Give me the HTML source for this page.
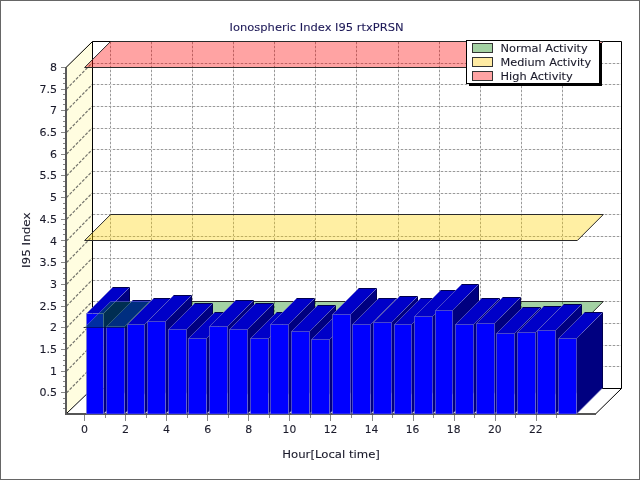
<!DOCTYPE html>
<html><head><meta charset="utf-8"><style>
html,body{margin:0;padding:0;background:#fff;}
svg{display:block;}
</style></head><body>
<svg style="will-change:transform" width="640" height="480" viewBox="0 0 640 480">
<rect x="0" y="0" width="640" height="480" fill="#ffffff"/>
<polygon points="92,41.35 621.5,41.35 621.5,388 92,388" fill="#ffffff" stroke="none" stroke-width="1" />
<polygon points="66,67.35 92,41.35 92,388 66,414" fill="#fffde0" stroke="none" stroke-width="1" />
<polygon points="66,414 92,388 621.5,388 595.5,414" fill="#ffffff" stroke="none" stroke-width="1" />
<line x1="92" y1="366.5" x2="621.5" y2="366.5" stroke="#e4e4e4" stroke-width="1" />
<line x1="92" y1="366.5" x2="621.5" y2="366.5" stroke="#9a9a9a" stroke-width="1" stroke-dasharray="2,2" stroke-dashoffset="-1"/>
<line x1="66.5" y1="392.85" x2="92" y2="366.85" stroke="#74746c" stroke-width="1.2" stroke-dasharray="3,1.5"/>
<line x1="92" y1="345.5" x2="621.5" y2="345.5" stroke="#e4e4e4" stroke-width="1" />
<line x1="92" y1="345.5" x2="621.5" y2="345.5" stroke="#9a9a9a" stroke-width="1" stroke-dasharray="2,2" stroke-dashoffset="-1"/>
<line x1="66.5" y1="371.15" x2="92" y2="345.15" stroke="#74746c" stroke-width="1.2" stroke-dasharray="3,1.5"/>
<line x1="92" y1="323.5" x2="621.5" y2="323.5" stroke="#e4e4e4" stroke-width="1" />
<line x1="92" y1="323.5" x2="621.5" y2="323.5" stroke="#9a9a9a" stroke-width="1" stroke-dasharray="2,2" stroke-dashoffset="-1"/>
<line x1="66.5" y1="349.45" x2="92" y2="323.45" stroke="#74746c" stroke-width="1.2" stroke-dasharray="3,1.5"/>
<line x1="92" y1="301.5" x2="621.5" y2="301.5" stroke="#e4e4e4" stroke-width="1" />
<line x1="92" y1="301.5" x2="621.5" y2="301.5" stroke="#9a9a9a" stroke-width="1" stroke-dasharray="2,2" stroke-dashoffset="-1"/>
<line x1="66.5" y1="327.75" x2="92" y2="301.75" stroke="#74746c" stroke-width="1.2" stroke-dasharray="3,1.5"/>
<line x1="92" y1="280.5" x2="621.5" y2="280.5" stroke="#e4e4e4" stroke-width="1" />
<line x1="92" y1="280.5" x2="621.5" y2="280.5" stroke="#9a9a9a" stroke-width="1" stroke-dasharray="2,2" stroke-dashoffset="-1"/>
<line x1="66.5" y1="306.05" x2="92" y2="280.05" stroke="#74746c" stroke-width="1.2" stroke-dasharray="3,1.5"/>
<line x1="92" y1="258.5" x2="621.5" y2="258.5" stroke="#e4e4e4" stroke-width="1" />
<line x1="92" y1="258.5" x2="621.5" y2="258.5" stroke="#9a9a9a" stroke-width="1" stroke-dasharray="2,2" stroke-dashoffset="-1"/>
<line x1="66.5" y1="284.35" x2="92" y2="258.35" stroke="#74746c" stroke-width="1.2" stroke-dasharray="3,1.5"/>
<line x1="92" y1="236.5" x2="621.5" y2="236.5" stroke="#e4e4e4" stroke-width="1" />
<line x1="92" y1="236.5" x2="621.5" y2="236.5" stroke="#9a9a9a" stroke-width="1" stroke-dasharray="2,2" stroke-dashoffset="-1"/>
<line x1="66.5" y1="262.65" x2="92" y2="236.65" stroke="#74746c" stroke-width="1.2" stroke-dasharray="3,1.5"/>
<line x1="92" y1="214.5" x2="621.5" y2="214.5" stroke="#e4e4e4" stroke-width="1" />
<line x1="92" y1="214.5" x2="621.5" y2="214.5" stroke="#9a9a9a" stroke-width="1" stroke-dasharray="2,2" stroke-dashoffset="-1"/>
<line x1="66.5" y1="240.95" x2="92" y2="214.95" stroke="#74746c" stroke-width="1.2" stroke-dasharray="3,1.5"/>
<line x1="92" y1="193.5" x2="621.5" y2="193.5" stroke="#e4e4e4" stroke-width="1" />
<line x1="92" y1="193.5" x2="621.5" y2="193.5" stroke="#9a9a9a" stroke-width="1" stroke-dasharray="2,2" stroke-dashoffset="-1"/>
<line x1="66.5" y1="219.25" x2="92" y2="193.25" stroke="#74746c" stroke-width="1.2" stroke-dasharray="3,1.5"/>
<line x1="92" y1="171.5" x2="621.5" y2="171.5" stroke="#e4e4e4" stroke-width="1" />
<line x1="92" y1="171.5" x2="621.5" y2="171.5" stroke="#9a9a9a" stroke-width="1" stroke-dasharray="2,2" stroke-dashoffset="-1"/>
<line x1="66.5" y1="197.55" x2="92" y2="171.55" stroke="#74746c" stroke-width="1.2" stroke-dasharray="3,1.5"/>
<line x1="92" y1="149.5" x2="621.5" y2="149.5" stroke="#e4e4e4" stroke-width="1" />
<line x1="92" y1="149.5" x2="621.5" y2="149.5" stroke="#9a9a9a" stroke-width="1" stroke-dasharray="2,2" stroke-dashoffset="-1"/>
<line x1="66.5" y1="175.85" x2="92" y2="149.85" stroke="#74746c" stroke-width="1.2" stroke-dasharray="3,1.5"/>
<line x1="92" y1="128.5" x2="621.5" y2="128.5" stroke="#e4e4e4" stroke-width="1" />
<line x1="92" y1="128.5" x2="621.5" y2="128.5" stroke="#9a9a9a" stroke-width="1" stroke-dasharray="2,2" stroke-dashoffset="-1"/>
<line x1="66.5" y1="154.15" x2="92" y2="128.15" stroke="#74746c" stroke-width="1.2" stroke-dasharray="3,1.5"/>
<line x1="92" y1="106.5" x2="621.5" y2="106.5" stroke="#e4e4e4" stroke-width="1" />
<line x1="92" y1="106.5" x2="621.5" y2="106.5" stroke="#9a9a9a" stroke-width="1" stroke-dasharray="2,2" stroke-dashoffset="-1"/>
<line x1="66.5" y1="132.45" x2="92" y2="106.45" stroke="#74746c" stroke-width="1.2" stroke-dasharray="3,1.5"/>
<line x1="92" y1="84.5" x2="621.5" y2="84.5" stroke="#e4e4e4" stroke-width="1" />
<line x1="92" y1="84.5" x2="621.5" y2="84.5" stroke="#9a9a9a" stroke-width="1" stroke-dasharray="2,2" stroke-dashoffset="-1"/>
<line x1="66.5" y1="110.75" x2="92" y2="84.75" stroke="#74746c" stroke-width="1.2" stroke-dasharray="3,1.5"/>
<line x1="92" y1="63.5" x2="621.5" y2="63.5" stroke="#e4e4e4" stroke-width="1" />
<line x1="92" y1="63.5" x2="621.5" y2="63.5" stroke="#9a9a9a" stroke-width="1" stroke-dasharray="2,2" stroke-dashoffset="-1"/>
<line x1="66.5" y1="89.05" x2="92" y2="63.05" stroke="#74746c" stroke-width="1.2" stroke-dasharray="3,1.5"/>
<line x1="110.5" y1="42" x2="110.5" y2="388" stroke="#e4e4e4" stroke-width="1" />
<line x1="110.5" y1="42" x2="110.5" y2="388" stroke="#9a9a9a" stroke-width="1" stroke-dasharray="2,2"/>
<line x1="151.5" y1="42" x2="151.5" y2="388" stroke="#e4e4e4" stroke-width="1" />
<line x1="151.5" y1="42" x2="151.5" y2="388" stroke="#9a9a9a" stroke-width="1" stroke-dasharray="2,2"/>
<line x1="192.5" y1="42" x2="192.5" y2="388" stroke="#e4e4e4" stroke-width="1" />
<line x1="192.5" y1="42" x2="192.5" y2="388" stroke="#9a9a9a" stroke-width="1" stroke-dasharray="2,2"/>
<line x1="233.5" y1="42" x2="233.5" y2="388" stroke="#e4e4e4" stroke-width="1" />
<line x1="233.5" y1="42" x2="233.5" y2="388" stroke="#9a9a9a" stroke-width="1" stroke-dasharray="2,2"/>
<line x1="274.5" y1="42" x2="274.5" y2="388" stroke="#e4e4e4" stroke-width="1" />
<line x1="274.5" y1="42" x2="274.5" y2="388" stroke="#9a9a9a" stroke-width="1" stroke-dasharray="2,2"/>
<line x1="315.5" y1="42" x2="315.5" y2="388" stroke="#e4e4e4" stroke-width="1" />
<line x1="315.5" y1="42" x2="315.5" y2="388" stroke="#9a9a9a" stroke-width="1" stroke-dasharray="2,2"/>
<line x1="356.5" y1="42" x2="356.5" y2="388" stroke="#e4e4e4" stroke-width="1" />
<line x1="356.5" y1="42" x2="356.5" y2="388" stroke="#9a9a9a" stroke-width="1" stroke-dasharray="2,2"/>
<line x1="398.5" y1="42" x2="398.5" y2="388" stroke="#e4e4e4" stroke-width="1" />
<line x1="398.5" y1="42" x2="398.5" y2="388" stroke="#9a9a9a" stroke-width="1" stroke-dasharray="2,2"/>
<line x1="439.5" y1="42" x2="439.5" y2="388" stroke="#e4e4e4" stroke-width="1" />
<line x1="439.5" y1="42" x2="439.5" y2="388" stroke="#9a9a9a" stroke-width="1" stroke-dasharray="2,2"/>
<line x1="480.5" y1="42" x2="480.5" y2="388" stroke="#e4e4e4" stroke-width="1" />
<line x1="480.5" y1="42" x2="480.5" y2="388" stroke="#9a9a9a" stroke-width="1" stroke-dasharray="2,2"/>
<line x1="521.5" y1="42" x2="521.5" y2="388" stroke="#e4e4e4" stroke-width="1" />
<line x1="521.5" y1="42" x2="521.5" y2="388" stroke="#9a9a9a" stroke-width="1" stroke-dasharray="2,2"/>
<line x1="562.5" y1="42" x2="562.5" y2="388" stroke="#e4e4e4" stroke-width="1" />
<line x1="562.5" y1="42" x2="562.5" y2="388" stroke="#9a9a9a" stroke-width="1" stroke-dasharray="2,2"/>
<polyline points="66,67.5 92.5,41.5 621.5,41.5 621.5,388.5" fill="none" stroke="#000" stroke-width="1"/>
<line x1="92.5" y1="41.5" x2="92.5" y2="388.5" stroke="#000" stroke-width="1" />
<line x1="92.5" y1="388.5" x2="621.5" y2="388.5" stroke="#000" stroke-width="1" />
<line x1="66" y1="414" x2="92.5" y2="388.5" stroke="#000" stroke-width="1" />
<line x1="595.5" y1="414" x2="621.5" y2="388.5" stroke="#000" stroke-width="1" />
<polygon points="84.6,67.5 110.6,41.5 603.32,41.5 577.32,67.5" fill="#ff0000" stroke="#2a2a2a" stroke-width="1" fill-opacity="0.36"/>
<polygon points="84.6,240.5 110.6,214.5 603.32,214.5 577.32,240.5" fill="#ffd200" stroke="#2a2a2a" stroke-width="1" fill-opacity="0.36"/>
<rect x="65" y="413" width="531" height="2" fill="#555"/>
<polygon points="103.5,313.5 129.5,287.5 129.5,388 103.5,414" fill="#000080" stroke="none" stroke-width="1" />
<polygon points="86.5,313.5 112.5,287.5 129.5,287.5 103.5,313.5" fill="#0000c8" stroke="none" stroke-width="1" />
<polygon points="86.5,313.5 103.5,313.5 103.5,414 86.5,414" fill="#0000ff" stroke="none" stroke-width="1" />
<polyline points="112.5,287.5 129.5,287.5 129.5,388" fill="none" stroke="#000050" stroke-width="1"/>
<polyline points="112.5,287.5 86.5,313.5 86.5,414 103.5,414 103.5,313.5" fill="none" stroke="rgba(120,120,200,0.6)" stroke-width="1"/>
<polyline points="86.5,313.5 103.5,313.5 129.5,287.5" fill="none" stroke="rgba(120,120,200,0.6)" stroke-width="1"/>
<line x1="103.5" y1="414" x2="129.5" y2="388" stroke="rgba(120,120,200,0.6)" stroke-width="1" />
<polygon points="124.5,326.5 150.5,300.5 150.5,388 124.5,414" fill="#000080" stroke="none" stroke-width="1" />
<polygon points="106.5,326.5 132.5,300.5 150.5,300.5 124.5,326.5" fill="#0000c8" stroke="none" stroke-width="1" />
<polygon points="106.5,326.5 124.5,326.5 124.5,414 106.5,414" fill="#0000ff" stroke="none" stroke-width="1" />
<polyline points="132.5,300.5 150.5,300.5 150.5,388" fill="none" stroke="#000050" stroke-width="1"/>
<polyline points="132.5,300.5 106.5,326.5 106.5,414 124.5,414 124.5,326.5" fill="none" stroke="rgba(120,120,200,0.6)" stroke-width="1"/>
<polyline points="106.5,326.5 124.5,326.5 150.5,300.5" fill="none" stroke="rgba(120,120,200,0.6)" stroke-width="1"/>
<line x1="124.5" y1="414" x2="150.5" y2="388" stroke="rgba(120,120,200,0.6)" stroke-width="1" />
<polygon points="84.6,327.5 110.6,301.5 603.32,301.5 577.32,327.5" fill="#008000" stroke="none" stroke-width="1" fill-opacity="0.36"/>
<polyline points="150.5,301.5 603.32,301.5 577.32,327.5 127.5,327.5" fill="none" stroke="#2a2a2a" stroke-width="1"/>
<polyline points="85.8,326.3 110.6,301.5 150.5,301.5" fill="none" stroke="rgba(110,110,220,0.55)" stroke-width="1"/>
<line x1="84.6" y1="327.5" x2="127.5" y2="327.5" stroke="rgba(0,0,60,0.55)" stroke-width="1" />
<line x1="83.6" y1="327.5" x2="85.5" y2="327.5" stroke="#2a2a2a" stroke-width="1" />
<polygon points="144.5,324.5 170.5,298.5 170.5,388 144.5,414" fill="#000080" stroke="none" stroke-width="1" />
<polygon points="127.5,324.5 153.5,298.5 170.5,298.5 144.5,324.5" fill="#0000c8" stroke="none" stroke-width="1" />
<polygon points="127.5,324.5 144.5,324.5 144.5,414 127.5,414" fill="#0000ff" stroke="none" stroke-width="1" />
<polyline points="153.5,298.5 170.5,298.5 170.5,388" fill="none" stroke="#000050" stroke-width="1"/>
<polyline points="153.5,298.5 127.5,324.5 127.5,414 144.5,414 144.5,324.5" fill="none" stroke="rgba(120,120,200,0.6)" stroke-width="1"/>
<polyline points="127.5,324.5 144.5,324.5 170.5,298.5" fill="none" stroke="rgba(120,120,200,0.6)" stroke-width="1"/>
<line x1="144.5" y1="414" x2="170.5" y2="388" stroke="rgba(120,120,200,0.6)" stroke-width="1" />
<polygon points="165.5,321.5 191.5,295.5 191.5,388 165.5,414" fill="#000080" stroke="none" stroke-width="1" />
<polygon points="147.5,321.5 173.5,295.5 191.5,295.5 165.5,321.5" fill="#0000c8" stroke="none" stroke-width="1" />
<polygon points="147.5,321.5 165.5,321.5 165.5,414 147.5,414" fill="#0000ff" stroke="none" stroke-width="1" />
<polyline points="173.5,295.5 191.5,295.5 191.5,388" fill="none" stroke="#000050" stroke-width="1"/>
<polyline points="173.5,295.5 147.5,321.5 147.5,414 165.5,414 165.5,321.5" fill="none" stroke="rgba(120,120,200,0.6)" stroke-width="1"/>
<polyline points="147.5,321.5 165.5,321.5 191.5,295.5" fill="none" stroke="rgba(120,120,200,0.6)" stroke-width="1"/>
<line x1="165.5" y1="414" x2="191.5" y2="388" stroke="rgba(120,120,200,0.6)" stroke-width="1" />
<polygon points="186.5,329.5 212.5,303.5 212.5,388 186.5,414" fill="#000080" stroke="none" stroke-width="1" />
<polygon points="168.5,329.5 194.5,303.5 212.5,303.5 186.5,329.5" fill="#0000c8" stroke="none" stroke-width="1" />
<polygon points="168.5,329.5 186.5,329.5 186.5,414 168.5,414" fill="#0000ff" stroke="none" stroke-width="1" />
<polyline points="194.5,303.5 212.5,303.5 212.5,388" fill="none" stroke="#000050" stroke-width="1"/>
<polyline points="194.5,303.5 168.5,329.5 168.5,414 186.5,414 186.5,329.5" fill="none" stroke="rgba(120,120,200,0.6)" stroke-width="1"/>
<polyline points="168.5,329.5 186.5,329.5 212.5,303.5" fill="none" stroke="rgba(120,120,200,0.6)" stroke-width="1"/>
<line x1="186.5" y1="414" x2="212.5" y2="388" stroke="rgba(120,120,200,0.6)" stroke-width="1" />
<polygon points="206.5,338.5 232.5,312.5 232.5,388 206.5,414" fill="#000080" stroke="none" stroke-width="1" />
<polygon points="188.5,338.5 214.5,312.5 232.5,312.5 206.5,338.5" fill="#0000c8" stroke="none" stroke-width="1" />
<polygon points="188.5,338.5 206.5,338.5 206.5,414 188.5,414" fill="#0000ff" stroke="none" stroke-width="1" />
<polyline points="214.5,312.5 232.5,312.5 232.5,388" fill="none" stroke="#000050" stroke-width="1"/>
<polyline points="214.5,312.5 188.5,338.5 188.5,414 206.5,414 206.5,338.5" fill="none" stroke="rgba(120,120,200,0.6)" stroke-width="1"/>
<polyline points="188.5,338.5 206.5,338.5 232.5,312.5" fill="none" stroke="rgba(120,120,200,0.6)" stroke-width="1"/>
<line x1="206.5" y1="414" x2="232.5" y2="388" stroke="rgba(120,120,200,0.6)" stroke-width="1" />
<polygon points="227.5,326.5 253.5,300.5 253.5,388 227.5,414" fill="#000080" stroke="none" stroke-width="1" />
<polygon points="209.5,326.5 235.5,300.5 253.5,300.5 227.5,326.5" fill="#0000c8" stroke="none" stroke-width="1" />
<polygon points="209.5,326.5 227.5,326.5 227.5,414 209.5,414" fill="#0000ff" stroke="none" stroke-width="1" />
<polyline points="235.5,300.5 253.5,300.5 253.5,388" fill="none" stroke="#000050" stroke-width="1"/>
<polyline points="235.5,300.5 209.5,326.5 209.5,414 227.5,414 227.5,326.5" fill="none" stroke="rgba(120,120,200,0.6)" stroke-width="1"/>
<polyline points="209.5,326.5 227.5,326.5 253.5,300.5" fill="none" stroke="rgba(120,120,200,0.6)" stroke-width="1"/>
<line x1="227.5" y1="414" x2="253.5" y2="388" stroke="rgba(120,120,200,0.6)" stroke-width="1" />
<polygon points="247.5,329.5 273.5,303.5 273.5,388 247.5,414" fill="#000080" stroke="none" stroke-width="1" />
<polygon points="229.5,329.5 255.5,303.5 273.5,303.5 247.5,329.5" fill="#0000c8" stroke="none" stroke-width="1" />
<polygon points="229.5,329.5 247.5,329.5 247.5,414 229.5,414" fill="#0000ff" stroke="none" stroke-width="1" />
<polyline points="255.5,303.5 273.5,303.5 273.5,388" fill="none" stroke="#000050" stroke-width="1"/>
<polyline points="255.5,303.5 229.5,329.5 229.5,414 247.5,414 247.5,329.5" fill="none" stroke="rgba(120,120,200,0.6)" stroke-width="1"/>
<polyline points="229.5,329.5 247.5,329.5 273.5,303.5" fill="none" stroke="rgba(120,120,200,0.6)" stroke-width="1"/>
<line x1="247.5" y1="414" x2="273.5" y2="388" stroke="rgba(120,120,200,0.6)" stroke-width="1" />
<polygon points="268.5,338.5 294.5,312.5 294.5,388 268.5,414" fill="#000080" stroke="none" stroke-width="1" />
<polygon points="250.5,338.5 276.5,312.5 294.5,312.5 268.5,338.5" fill="#0000c8" stroke="none" stroke-width="1" />
<polygon points="250.5,338.5 268.5,338.5 268.5,414 250.5,414" fill="#0000ff" stroke="none" stroke-width="1" />
<polyline points="276.5,312.5 294.5,312.5 294.5,388" fill="none" stroke="#000050" stroke-width="1"/>
<polyline points="276.5,312.5 250.5,338.5 250.5,414 268.5,414 268.5,338.5" fill="none" stroke="rgba(120,120,200,0.6)" stroke-width="1"/>
<polyline points="250.5,338.5 268.5,338.5 294.5,312.5" fill="none" stroke="rgba(120,120,200,0.6)" stroke-width="1"/>
<line x1="268.5" y1="414" x2="294.5" y2="388" stroke="rgba(120,120,200,0.6)" stroke-width="1" />
<polygon points="288.5,324.5 314.5,298.5 314.5,388 288.5,414" fill="#000080" stroke="none" stroke-width="1" />
<polygon points="270.5,324.5 296.5,298.5 314.5,298.5 288.5,324.5" fill="#0000c8" stroke="none" stroke-width="1" />
<polygon points="270.5,324.5 288.5,324.5 288.5,414 270.5,414" fill="#0000ff" stroke="none" stroke-width="1" />
<polyline points="296.5,298.5 314.5,298.5 314.5,388" fill="none" stroke="#000050" stroke-width="1"/>
<polyline points="296.5,298.5 270.5,324.5 270.5,414 288.5,414 288.5,324.5" fill="none" stroke="rgba(120,120,200,0.6)" stroke-width="1"/>
<polyline points="270.5,324.5 288.5,324.5 314.5,298.5" fill="none" stroke="rgba(120,120,200,0.6)" stroke-width="1"/>
<line x1="288.5" y1="414" x2="314.5" y2="388" stroke="rgba(120,120,200,0.6)" stroke-width="1" />
<polygon points="309.5,331.5 335.5,305.5 335.5,388 309.5,414" fill="#000080" stroke="none" stroke-width="1" />
<polygon points="291.5,331.5 317.5,305.5 335.5,305.5 309.5,331.5" fill="#0000c8" stroke="none" stroke-width="1" />
<polygon points="291.5,331.5 309.5,331.5 309.5,414 291.5,414" fill="#0000ff" stroke="none" stroke-width="1" />
<polyline points="317.5,305.5 335.5,305.5 335.5,388" fill="none" stroke="#000050" stroke-width="1"/>
<polyline points="317.5,305.5 291.5,331.5 291.5,414 309.5,414 309.5,331.5" fill="none" stroke="rgba(120,120,200,0.6)" stroke-width="1"/>
<polyline points="291.5,331.5 309.5,331.5 335.5,305.5" fill="none" stroke="rgba(120,120,200,0.6)" stroke-width="1"/>
<line x1="309.5" y1="414" x2="335.5" y2="388" stroke="rgba(120,120,200,0.6)" stroke-width="1" />
<polygon points="329.5,339.5 355.5,313.5 355.5,388 329.5,414" fill="#000080" stroke="none" stroke-width="1" />
<polygon points="311.5,339.5 337.5,313.5 355.5,313.5 329.5,339.5" fill="#0000c8" stroke="none" stroke-width="1" />
<polygon points="311.5,339.5 329.5,339.5 329.5,414 311.5,414" fill="#0000ff" stroke="none" stroke-width="1" />
<polyline points="337.5,313.5 355.5,313.5 355.5,388" fill="none" stroke="#000050" stroke-width="1"/>
<polyline points="337.5,313.5 311.5,339.5 311.5,414 329.5,414 329.5,339.5" fill="none" stroke="rgba(120,120,200,0.6)" stroke-width="1"/>
<polyline points="311.5,339.5 329.5,339.5 355.5,313.5" fill="none" stroke="rgba(120,120,200,0.6)" stroke-width="1"/>
<line x1="329.5" y1="414" x2="355.5" y2="388" stroke="rgba(120,120,200,0.6)" stroke-width="1" />
<polygon points="350.5,314.5 376.5,288.5 376.5,388 350.5,414" fill="#000080" stroke="none" stroke-width="1" />
<polygon points="332.5,314.5 358.5,288.5 376.5,288.5 350.5,314.5" fill="#0000c8" stroke="none" stroke-width="1" />
<polygon points="332.5,314.5 350.5,314.5 350.5,414 332.5,414" fill="#0000ff" stroke="none" stroke-width="1" />
<polyline points="358.5,288.5 376.5,288.5 376.5,388" fill="none" stroke="#000050" stroke-width="1"/>
<polyline points="358.5,288.5 332.5,314.5 332.5,414 350.5,414 350.5,314.5" fill="none" stroke="rgba(120,120,200,0.6)" stroke-width="1"/>
<polyline points="332.5,314.5 350.5,314.5 376.5,288.5" fill="none" stroke="rgba(120,120,200,0.6)" stroke-width="1"/>
<line x1="350.5" y1="414" x2="376.5" y2="388" stroke="rgba(120,120,200,0.6)" stroke-width="1" />
<polygon points="370.5,324.5 396.5,298.5 396.5,388 370.5,414" fill="#000080" stroke="none" stroke-width="1" />
<polygon points="352.5,324.5 378.5,298.5 396.5,298.5 370.5,324.5" fill="#0000c8" stroke="none" stroke-width="1" />
<polygon points="352.5,324.5 370.5,324.5 370.5,414 352.5,414" fill="#0000ff" stroke="none" stroke-width="1" />
<polyline points="378.5,298.5 396.5,298.5 396.5,388" fill="none" stroke="#000050" stroke-width="1"/>
<polyline points="378.5,298.5 352.5,324.5 352.5,414 370.5,414 370.5,324.5" fill="none" stroke="rgba(120,120,200,0.6)" stroke-width="1"/>
<polyline points="352.5,324.5 370.5,324.5 396.5,298.5" fill="none" stroke="rgba(120,120,200,0.6)" stroke-width="1"/>
<line x1="370.5" y1="414" x2="396.5" y2="388" stroke="rgba(120,120,200,0.6)" stroke-width="1" />
<polygon points="391.5,322.5 417.5,296.5 417.5,388 391.5,414" fill="#000080" stroke="none" stroke-width="1" />
<polygon points="373.5,322.5 399.5,296.5 417.5,296.5 391.5,322.5" fill="#0000c8" stroke="none" stroke-width="1" />
<polygon points="373.5,322.5 391.5,322.5 391.5,414 373.5,414" fill="#0000ff" stroke="none" stroke-width="1" />
<polyline points="399.5,296.5 417.5,296.5 417.5,388" fill="none" stroke="#000050" stroke-width="1"/>
<polyline points="399.5,296.5 373.5,322.5 373.5,414 391.5,414 391.5,322.5" fill="none" stroke="rgba(120,120,200,0.6)" stroke-width="1"/>
<polyline points="373.5,322.5 391.5,322.5 417.5,296.5" fill="none" stroke="rgba(120,120,200,0.6)" stroke-width="1"/>
<line x1="391.5" y1="414" x2="417.5" y2="388" stroke="rgba(120,120,200,0.6)" stroke-width="1" />
<polygon points="411.5,324.5 437.5,298.5 437.5,388 411.5,414" fill="#000080" stroke="none" stroke-width="1" />
<polygon points="394.5,324.5 420.5,298.5 437.5,298.5 411.5,324.5" fill="#0000c8" stroke="none" stroke-width="1" />
<polygon points="394.5,324.5 411.5,324.5 411.5,414 394.5,414" fill="#0000ff" stroke="none" stroke-width="1" />
<polyline points="420.5,298.5 437.5,298.5 437.5,388" fill="none" stroke="#000050" stroke-width="1"/>
<polyline points="420.5,298.5 394.5,324.5 394.5,414 411.5,414 411.5,324.5" fill="none" stroke="rgba(120,120,200,0.6)" stroke-width="1"/>
<polyline points="394.5,324.5 411.5,324.5 437.5,298.5" fill="none" stroke="rgba(120,120,200,0.6)" stroke-width="1"/>
<line x1="411.5" y1="414" x2="437.5" y2="388" stroke="rgba(120,120,200,0.6)" stroke-width="1" />
<polygon points="432.5,316.5 458.5,290.5 458.5,388 432.5,414" fill="#000080" stroke="none" stroke-width="1" />
<polygon points="414.5,316.5 440.5,290.5 458.5,290.5 432.5,316.5" fill="#0000c8" stroke="none" stroke-width="1" />
<polygon points="414.5,316.5 432.5,316.5 432.5,414 414.5,414" fill="#0000ff" stroke="none" stroke-width="1" />
<polyline points="440.5,290.5 458.5,290.5 458.5,388" fill="none" stroke="#000050" stroke-width="1"/>
<polyline points="440.5,290.5 414.5,316.5 414.5,414 432.5,414 432.5,316.5" fill="none" stroke="rgba(120,120,200,0.6)" stroke-width="1"/>
<polyline points="414.5,316.5 432.5,316.5 458.5,290.5" fill="none" stroke="rgba(120,120,200,0.6)" stroke-width="1"/>
<line x1="432.5" y1="414" x2="458.5" y2="388" stroke="rgba(120,120,200,0.6)" stroke-width="1" />
<polygon points="452.5,310.5 478.5,284.5 478.5,388 452.5,414" fill="#000080" stroke="none" stroke-width="1" />
<polygon points="435.5,310.5 461.5,284.5 478.5,284.5 452.5,310.5" fill="#0000c8" stroke="none" stroke-width="1" />
<polygon points="435.5,310.5 452.5,310.5 452.5,414 435.5,414" fill="#0000ff" stroke="none" stroke-width="1" />
<polyline points="461.5,284.5 478.5,284.5 478.5,388" fill="none" stroke="#000050" stroke-width="1"/>
<polyline points="461.5,284.5 435.5,310.5 435.5,414 452.5,414 452.5,310.5" fill="none" stroke="rgba(120,120,200,0.6)" stroke-width="1"/>
<polyline points="435.5,310.5 452.5,310.5 478.5,284.5" fill="none" stroke="rgba(120,120,200,0.6)" stroke-width="1"/>
<line x1="452.5" y1="414" x2="478.5" y2="388" stroke="rgba(120,120,200,0.6)" stroke-width="1" />
<polygon points="473.5,324.5 499.5,298.5 499.5,388 473.5,414" fill="#000080" stroke="none" stroke-width="1" />
<polygon points="455.5,324.5 481.5,298.5 499.5,298.5 473.5,324.5" fill="#0000c8" stroke="none" stroke-width="1" />
<polygon points="455.5,324.5 473.5,324.5 473.5,414 455.5,414" fill="#0000ff" stroke="none" stroke-width="1" />
<polyline points="481.5,298.5 499.5,298.5 499.5,388" fill="none" stroke="#000050" stroke-width="1"/>
<polyline points="481.5,298.5 455.5,324.5 455.5,414 473.5,414 473.5,324.5" fill="none" stroke="rgba(120,120,200,0.6)" stroke-width="1"/>
<polyline points="455.5,324.5 473.5,324.5 499.5,298.5" fill="none" stroke="rgba(120,120,200,0.6)" stroke-width="1"/>
<line x1="473.5" y1="414" x2="499.5" y2="388" stroke="rgba(120,120,200,0.6)" stroke-width="1" />
<polygon points="494.5,323.5 520.5,297.5 520.5,388 494.5,414" fill="#000080" stroke="none" stroke-width="1" />
<polygon points="476.5,323.5 502.5,297.5 520.5,297.5 494.5,323.5" fill="#0000c8" stroke="none" stroke-width="1" />
<polygon points="476.5,323.5 494.5,323.5 494.5,414 476.5,414" fill="#0000ff" stroke="none" stroke-width="1" />
<polyline points="502.5,297.5 520.5,297.5 520.5,388" fill="none" stroke="#000050" stroke-width="1"/>
<polyline points="502.5,297.5 476.5,323.5 476.5,414 494.5,414 494.5,323.5" fill="none" stroke="rgba(120,120,200,0.6)" stroke-width="1"/>
<polyline points="476.5,323.5 494.5,323.5 520.5,297.5" fill="none" stroke="rgba(120,120,200,0.6)" stroke-width="1"/>
<line x1="494.5" y1="414" x2="520.5" y2="388" stroke="rgba(120,120,200,0.6)" stroke-width="1" />
<polygon points="514.5,333.5 540.5,307.5 540.5,388 514.5,414" fill="#000080" stroke="none" stroke-width="1" />
<polygon points="496.5,333.5 522.5,307.5 540.5,307.5 514.5,333.5" fill="#0000c8" stroke="none" stroke-width="1" />
<polygon points="496.5,333.5 514.5,333.5 514.5,414 496.5,414" fill="#0000ff" stroke="none" stroke-width="1" />
<polyline points="522.5,307.5 540.5,307.5 540.5,388" fill="none" stroke="#000050" stroke-width="1"/>
<polyline points="522.5,307.5 496.5,333.5 496.5,414 514.5,414 514.5,333.5" fill="none" stroke="rgba(120,120,200,0.6)" stroke-width="1"/>
<polyline points="496.5,333.5 514.5,333.5 540.5,307.5" fill="none" stroke="rgba(120,120,200,0.6)" stroke-width="1"/>
<line x1="514.5" y1="414" x2="540.5" y2="388" stroke="rgba(120,120,200,0.6)" stroke-width="1" />
<polygon points="535.5,332.5 561.5,306.5 561.5,388 535.5,414" fill="#000080" stroke="none" stroke-width="1" />
<polygon points="517.5,332.5 543.5,306.5 561.5,306.5 535.5,332.5" fill="#0000c8" stroke="none" stroke-width="1" />
<polygon points="517.5,332.5 535.5,332.5 535.5,414 517.5,414" fill="#0000ff" stroke="none" stroke-width="1" />
<polyline points="543.5,306.5 561.5,306.5 561.5,388" fill="none" stroke="#000050" stroke-width="1"/>
<polyline points="543.5,306.5 517.5,332.5 517.5,414 535.5,414 535.5,332.5" fill="none" stroke="rgba(120,120,200,0.6)" stroke-width="1"/>
<polyline points="517.5,332.5 535.5,332.5 561.5,306.5" fill="none" stroke="rgba(120,120,200,0.6)" stroke-width="1"/>
<line x1="535.5" y1="414" x2="561.5" y2="388" stroke="rgba(120,120,200,0.6)" stroke-width="1" />
<polygon points="555.5,330.5 581.5,304.5 581.5,388 555.5,414" fill="#000080" stroke="none" stroke-width="1" />
<polygon points="537.5,330.5 563.5,304.5 581.5,304.5 555.5,330.5" fill="#0000c8" stroke="none" stroke-width="1" />
<polygon points="537.5,330.5 555.5,330.5 555.5,414 537.5,414" fill="#0000ff" stroke="none" stroke-width="1" />
<polyline points="563.5,304.5 581.5,304.5 581.5,388" fill="none" stroke="#000050" stroke-width="1"/>
<polyline points="563.5,304.5 537.5,330.5 537.5,414 555.5,414 555.5,330.5" fill="none" stroke="rgba(120,120,200,0.6)" stroke-width="1"/>
<polyline points="537.5,330.5 555.5,330.5 581.5,304.5" fill="none" stroke="rgba(120,120,200,0.6)" stroke-width="1"/>
<line x1="555.5" y1="414" x2="581.5" y2="388" stroke="rgba(120,120,200,0.6)" stroke-width="1" />
<polygon points="576.5,338.5 602.5,312.5 602.5,388 576.5,414" fill="#000080" stroke="none" stroke-width="1" />
<polygon points="558.5,338.5 584.5,312.5 602.5,312.5 576.5,338.5" fill="#0000c8" stroke="none" stroke-width="1" />
<polygon points="558.5,338.5 576.5,338.5 576.5,414 558.5,414" fill="#0000ff" stroke="none" stroke-width="1" />
<polyline points="584.5,312.5 602.5,312.5 602.5,388" fill="none" stroke="#000050" stroke-width="1"/>
<polyline points="584.5,312.5 558.5,338.5 558.5,414 576.5,414 576.5,338.5" fill="none" stroke="rgba(120,120,200,0.6)" stroke-width="1"/>
<polyline points="558.5,338.5 576.5,338.5 602.5,312.5" fill="none" stroke="rgba(120,120,200,0.6)" stroke-width="1"/>
<line x1="576.5" y1="414" x2="602.5" y2="388" stroke="rgba(120,120,200,0.6)" stroke-width="1" />
<rect x="65" y="67" width="2" height="348" fill="#5a5a5a"/>
<line x1="63" y1="408.5" x2="65" y2="408.5" stroke="#888" stroke-width="1" />
<line x1="63" y1="403.5" x2="65" y2="403.5" stroke="#888" stroke-width="1" />
<line x1="63" y1="398.5" x2="65" y2="398.5" stroke="#888" stroke-width="1" />
<line x1="61" y1="392.5" x2="65" y2="392.5" stroke="#888" stroke-width="1" />
<line x1="63" y1="386.5" x2="65" y2="386.5" stroke="#888" stroke-width="1" />
<line x1="63" y1="381.5" x2="65" y2="381.5" stroke="#888" stroke-width="1" />
<line x1="63" y1="376.5" x2="65" y2="376.5" stroke="#888" stroke-width="1" />
<line x1="61" y1="371.5" x2="65" y2="371.5" stroke="#888" stroke-width="1" />
<line x1="63" y1="365.5" x2="65" y2="365.5" stroke="#888" stroke-width="1" />
<line x1="63" y1="360.5" x2="65" y2="360.5" stroke="#888" stroke-width="1" />
<line x1="63" y1="355.5" x2="65" y2="355.5" stroke="#888" stroke-width="1" />
<line x1="61" y1="349.5" x2="65" y2="349.5" stroke="#888" stroke-width="1" />
<line x1="63" y1="343.5" x2="65" y2="343.5" stroke="#888" stroke-width="1" />
<line x1="63" y1="338.5" x2="65" y2="338.5" stroke="#888" stroke-width="1" />
<line x1="63" y1="333.5" x2="65" y2="333.5" stroke="#888" stroke-width="1" />
<line x1="61" y1="327.5" x2="65" y2="327.5" stroke="#888" stroke-width="1" />
<line x1="63" y1="321.5" x2="65" y2="321.5" stroke="#888" stroke-width="1" />
<line x1="63" y1="316.5" x2="65" y2="316.5" stroke="#888" stroke-width="1" />
<line x1="63" y1="311.5" x2="65" y2="311.5" stroke="#888" stroke-width="1" />
<line x1="61" y1="306.5" x2="65" y2="306.5" stroke="#888" stroke-width="1" />
<line x1="63" y1="300.5" x2="65" y2="300.5" stroke="#888" stroke-width="1" />
<line x1="63" y1="295.5" x2="65" y2="295.5" stroke="#888" stroke-width="1" />
<line x1="63" y1="290.5" x2="65" y2="290.5" stroke="#888" stroke-width="1" />
<line x1="61" y1="284.5" x2="65" y2="284.5" stroke="#888" stroke-width="1" />
<line x1="63" y1="278.5" x2="65" y2="278.5" stroke="#888" stroke-width="1" />
<line x1="63" y1="273.5" x2="65" y2="273.5" stroke="#888" stroke-width="1" />
<line x1="63" y1="268.5" x2="65" y2="268.5" stroke="#888" stroke-width="1" />
<line x1="61" y1="262.5" x2="65" y2="262.5" stroke="#888" stroke-width="1" />
<line x1="63" y1="256.5" x2="65" y2="256.5" stroke="#888" stroke-width="1" />
<line x1="63" y1="251.5" x2="65" y2="251.5" stroke="#888" stroke-width="1" />
<line x1="63" y1="246.5" x2="65" y2="246.5" stroke="#888" stroke-width="1" />
<line x1="61" y1="240.5" x2="65" y2="240.5" stroke="#888" stroke-width="1" />
<line x1="63" y1="234.5" x2="65" y2="234.5" stroke="#888" stroke-width="1" />
<line x1="63" y1="229.5" x2="65" y2="229.5" stroke="#888" stroke-width="1" />
<line x1="63" y1="224.5" x2="65" y2="224.5" stroke="#888" stroke-width="1" />
<line x1="61" y1="219.5" x2="65" y2="219.5" stroke="#888" stroke-width="1" />
<line x1="63" y1="213.5" x2="65" y2="213.5" stroke="#888" stroke-width="1" />
<line x1="63" y1="208.5" x2="65" y2="208.5" stroke="#888" stroke-width="1" />
<line x1="63" y1="203.5" x2="65" y2="203.5" stroke="#888" stroke-width="1" />
<line x1="61" y1="197.5" x2="65" y2="197.5" stroke="#888" stroke-width="1" />
<line x1="63" y1="191.5" x2="65" y2="191.5" stroke="#888" stroke-width="1" />
<line x1="63" y1="186.5" x2="65" y2="186.5" stroke="#888" stroke-width="1" />
<line x1="63" y1="181.5" x2="65" y2="181.5" stroke="#888" stroke-width="1" />
<line x1="61" y1="175.5" x2="65" y2="175.5" stroke="#888" stroke-width="1" />
<line x1="63" y1="169.5" x2="65" y2="169.5" stroke="#888" stroke-width="1" />
<line x1="63" y1="164.5" x2="65" y2="164.5" stroke="#888" stroke-width="1" />
<line x1="63" y1="159.5" x2="65" y2="159.5" stroke="#888" stroke-width="1" />
<line x1="61" y1="154.5" x2="65" y2="154.5" stroke="#888" stroke-width="1" />
<line x1="63" y1="148.5" x2="65" y2="148.5" stroke="#888" stroke-width="1" />
<line x1="63" y1="143.5" x2="65" y2="143.5" stroke="#888" stroke-width="1" />
<line x1="63" y1="138.5" x2="65" y2="138.5" stroke="#888" stroke-width="1" />
<line x1="61" y1="132.5" x2="65" y2="132.5" stroke="#888" stroke-width="1" />
<line x1="63" y1="126.5" x2="65" y2="126.5" stroke="#888" stroke-width="1" />
<line x1="63" y1="121.5" x2="65" y2="121.5" stroke="#888" stroke-width="1" />
<line x1="63" y1="116.5" x2="65" y2="116.5" stroke="#888" stroke-width="1" />
<line x1="61" y1="110.5" x2="65" y2="110.5" stroke="#888" stroke-width="1" />
<line x1="63" y1="104.5" x2="65" y2="104.5" stroke="#888" stroke-width="1" />
<line x1="63" y1="99.5" x2="65" y2="99.5" stroke="#888" stroke-width="1" />
<line x1="63" y1="94.5" x2="65" y2="94.5" stroke="#888" stroke-width="1" />
<line x1="61" y1="89.5" x2="65" y2="89.5" stroke="#888" stroke-width="1" />
<line x1="63" y1="83.5" x2="65" y2="83.5" stroke="#888" stroke-width="1" />
<line x1="63" y1="78.5" x2="65" y2="78.5" stroke="#888" stroke-width="1" />
<line x1="63" y1="73.5" x2="65" y2="73.5" stroke="#888" stroke-width="1" />
<line x1="61" y1="67.5" x2="65" y2="67.5" stroke="#888" stroke-width="1" />
<line x1="84.5" y1="415" x2="84.5" y2="421" stroke="#888" stroke-width="1" />
<line x1="105.5" y1="415" x2="105.5" y2="418" stroke="#888" stroke-width="1" />
<line x1="125.5" y1="415" x2="125.5" y2="421" stroke="#888" stroke-width="1" />
<line x1="146.5" y1="415" x2="146.5" y2="418" stroke="#888" stroke-width="1" />
<line x1="166.5" y1="415" x2="166.5" y2="421" stroke="#888" stroke-width="1" />
<line x1="187.5" y1="415" x2="187.5" y2="418" stroke="#888" stroke-width="1" />
<line x1="207.5" y1="415" x2="207.5" y2="421" stroke="#888" stroke-width="1" />
<line x1="228.5" y1="415" x2="228.5" y2="418" stroke="#888" stroke-width="1" />
<line x1="248.5" y1="415" x2="248.5" y2="421" stroke="#888" stroke-width="1" />
<line x1="269.5" y1="415" x2="269.5" y2="418" stroke="#888" stroke-width="1" />
<line x1="289.5" y1="415" x2="289.5" y2="421" stroke="#888" stroke-width="1" />
<line x1="310.5" y1="415" x2="310.5" y2="418" stroke="#888" stroke-width="1" />
<line x1="330.5" y1="415" x2="330.5" y2="421" stroke="#888" stroke-width="1" />
<line x1="351.5" y1="415" x2="351.5" y2="418" stroke="#888" stroke-width="1" />
<line x1="372.5" y1="415" x2="372.5" y2="421" stroke="#888" stroke-width="1" />
<line x1="392.5" y1="415" x2="392.5" y2="418" stroke="#888" stroke-width="1" />
<line x1="413.5" y1="415" x2="413.5" y2="421" stroke="#888" stroke-width="1" />
<line x1="433.5" y1="415" x2="433.5" y2="418" stroke="#888" stroke-width="1" />
<line x1="454.5" y1="415" x2="454.5" y2="421" stroke="#888" stroke-width="1" />
<line x1="474.5" y1="415" x2="474.5" y2="418" stroke="#888" stroke-width="1" />
<line x1="495.5" y1="415" x2="495.5" y2="421" stroke="#888" stroke-width="1" />
<line x1="515.5" y1="415" x2="515.5" y2="418" stroke="#888" stroke-width="1" />
<line x1="536.5" y1="415" x2="536.5" y2="421" stroke="#888" stroke-width="1" />
<line x1="556.5" y1="415" x2="556.5" y2="418" stroke="#888" stroke-width="1" />
<text x="57" y="396.45" font-size="11" text-anchor="end" fill="#1a1a2a" stroke="#1a1a2a" font-family="'DejaVu Sans', 'Liberation Sans', sans-serif" stroke-width="0.1">0.5</text>
<text x="57" y="374.75" font-size="11" text-anchor="end" fill="#1a1a2a" stroke="#1a1a2a" font-family="'DejaVu Sans', 'Liberation Sans', sans-serif" stroke-width="0.1">1</text>
<text x="57" y="353.05" font-size="11" text-anchor="end" fill="#1a1a2a" stroke="#1a1a2a" font-family="'DejaVu Sans', 'Liberation Sans', sans-serif" stroke-width="0.1">1.5</text>
<text x="57" y="331.35" font-size="11" text-anchor="end" fill="#1a1a2a" stroke="#1a1a2a" font-family="'DejaVu Sans', 'Liberation Sans', sans-serif" stroke-width="0.1">2</text>
<text x="57" y="309.65" font-size="11" text-anchor="end" fill="#1a1a2a" stroke="#1a1a2a" font-family="'DejaVu Sans', 'Liberation Sans', sans-serif" stroke-width="0.1">2.5</text>
<text x="57" y="287.95" font-size="11" text-anchor="end" fill="#1a1a2a" stroke="#1a1a2a" font-family="'DejaVu Sans', 'Liberation Sans', sans-serif" stroke-width="0.1">3</text>
<text x="57" y="266.25" font-size="11" text-anchor="end" fill="#1a1a2a" stroke="#1a1a2a" font-family="'DejaVu Sans', 'Liberation Sans', sans-serif" stroke-width="0.1">3.5</text>
<text x="57" y="244.55" font-size="11" text-anchor="end" fill="#1a1a2a" stroke="#1a1a2a" font-family="'DejaVu Sans', 'Liberation Sans', sans-serif" stroke-width="0.1">4</text>
<text x="57" y="222.85" font-size="11" text-anchor="end" fill="#1a1a2a" stroke="#1a1a2a" font-family="'DejaVu Sans', 'Liberation Sans', sans-serif" stroke-width="0.1">4.5</text>
<text x="57" y="201.15" font-size="11" text-anchor="end" fill="#1a1a2a" stroke="#1a1a2a" font-family="'DejaVu Sans', 'Liberation Sans', sans-serif" stroke-width="0.1">5</text>
<text x="57" y="179.45" font-size="11" text-anchor="end" fill="#1a1a2a" stroke="#1a1a2a" font-family="'DejaVu Sans', 'Liberation Sans', sans-serif" stroke-width="0.1">5.5</text>
<text x="57" y="157.75" font-size="11" text-anchor="end" fill="#1a1a2a" stroke="#1a1a2a" font-family="'DejaVu Sans', 'Liberation Sans', sans-serif" stroke-width="0.1">6</text>
<text x="57" y="136.05" font-size="11" text-anchor="end" fill="#1a1a2a" stroke="#1a1a2a" font-family="'DejaVu Sans', 'Liberation Sans', sans-serif" stroke-width="0.1">6.5</text>
<text x="57" y="114.35" font-size="11" text-anchor="end" fill="#1a1a2a" stroke="#1a1a2a" font-family="'DejaVu Sans', 'Liberation Sans', sans-serif" stroke-width="0.1">7</text>
<text x="57" y="92.65" font-size="11" text-anchor="end" fill="#1a1a2a" stroke="#1a1a2a" font-family="'DejaVu Sans', 'Liberation Sans', sans-serif" stroke-width="0.1">7.5</text>
<text x="57" y="70.95" font-size="11" text-anchor="end" fill="#1a1a2a" stroke="#1a1a2a" font-family="'DejaVu Sans', 'Liberation Sans', sans-serif" stroke-width="0.1">8</text>
<text x="84.5" y="433" font-size="11" text-anchor="middle" fill="#1a1a2a" stroke="#1a1a2a" font-family="'DejaVu Sans', 'Liberation Sans', sans-serif" stroke-width="0.1">0</text>
<text x="125.56" y="433" font-size="11" text-anchor="middle" fill="#1a1a2a" stroke="#1a1a2a" font-family="'DejaVu Sans', 'Liberation Sans', sans-serif" stroke-width="0.1">2</text>
<text x="166.62" y="433" font-size="11" text-anchor="middle" fill="#1a1a2a" stroke="#1a1a2a" font-family="'DejaVu Sans', 'Liberation Sans', sans-serif" stroke-width="0.1">4</text>
<text x="207.68" y="433" font-size="11" text-anchor="middle" fill="#1a1a2a" stroke="#1a1a2a" font-family="'DejaVu Sans', 'Liberation Sans', sans-serif" stroke-width="0.1">6</text>
<text x="248.74" y="433" font-size="11" text-anchor="middle" fill="#1a1a2a" stroke="#1a1a2a" font-family="'DejaVu Sans', 'Liberation Sans', sans-serif" stroke-width="0.1">8</text>
<text x="289.4" y="433" font-size="11" text-anchor="middle" fill="#1a1a2a" stroke="#1a1a2a" textLength="13.6" lengthAdjust="spacingAndGlyphs" font-family="'DejaVu Sans', 'Liberation Sans', sans-serif" stroke-width="0.1">10</text>
<text x="330.46" y="433" font-size="11" text-anchor="middle" fill="#1a1a2a" stroke="#1a1a2a" textLength="13.6" lengthAdjust="spacingAndGlyphs" font-family="'DejaVu Sans', 'Liberation Sans', sans-serif" stroke-width="0.1">12</text>
<text x="371.52" y="433" font-size="11" text-anchor="middle" fill="#1a1a2a" stroke="#1a1a2a" textLength="13.6" lengthAdjust="spacingAndGlyphs" font-family="'DejaVu Sans', 'Liberation Sans', sans-serif" stroke-width="0.1">14</text>
<text x="412.58" y="433" font-size="11" text-anchor="middle" fill="#1a1a2a" stroke="#1a1a2a" textLength="13.6" lengthAdjust="spacingAndGlyphs" font-family="'DejaVu Sans', 'Liberation Sans', sans-serif" stroke-width="0.1">16</text>
<text x="453.64" y="433" font-size="11" text-anchor="middle" fill="#1a1a2a" stroke="#1a1a2a" textLength="13.6" lengthAdjust="spacingAndGlyphs" font-family="'DejaVu Sans', 'Liberation Sans', sans-serif" stroke-width="0.1">18</text>
<text x="494.7" y="433" font-size="11" text-anchor="middle" fill="#1a1a2a" stroke="#1a1a2a" textLength="13.6" lengthAdjust="spacingAndGlyphs" font-family="'DejaVu Sans', 'Liberation Sans', sans-serif" stroke-width="0.1">20</text>
<text x="535.76" y="433" font-size="11" text-anchor="middle" fill="#1a1a2a" stroke="#1a1a2a" textLength="13.6" lengthAdjust="spacingAndGlyphs" font-family="'DejaVu Sans', 'Liberation Sans', sans-serif" stroke-width="0.1">22</text>
<text x="229.6" y="30.6" font-size="11" fill="#1e1a58" stroke="#1e1a58" textLength="174" lengthAdjust="spacingAndGlyphs" font-family="'DejaVu Sans', 'Liberation Sans', sans-serif" stroke-width="0.1">Ionospheric Index I95 rtxPRSN</text>
<text x="282.3" y="457.6" font-size="11" fill="#1a1a2a" stroke="#1a1a2a" textLength="97.6" lengthAdjust="spacingAndGlyphs" font-family="'DejaVu Sans', 'Liberation Sans', sans-serif" stroke-width="0.1">Hour[Local time]</text>
<text transform="translate(30.2,268) rotate(-90)" font-size="11" fill="#1a1a2a" stroke="#1a1a2a" textLength="55.6" lengthAdjust="spacingAndGlyphs" font-family="'DejaVu Sans', 'Liberation Sans', sans-serif" stroke-width="0.1">I95 Index</text>
<rect x="469" y="43" width="133" height="43" fill="#000"/>
<rect x="466.5" y="40.5" width="133" height="43" fill="#fff" stroke="#000" stroke-width="1"/>
<rect x="472.5" y="43.5" width="20" height="9" fill="#a3d1a3" stroke="#333" stroke-width="1"/>
<text x="500.6" y="52.2" font-size="11" fill="#1a1a2a" stroke="#1a1a2a" textLength="87.2" lengthAdjust="spacingAndGlyphs" font-family="'DejaVu Sans', 'Liberation Sans', sans-serif" stroke-width="0.1">Normal Activity</text>
<rect x="472.5" y="57.5" width="20" height="9" fill="#ffeba3" stroke="#333" stroke-width="1"/>
<text x="500.6" y="66" font-size="11" fill="#1a1a2a" stroke="#1a1a2a" textLength="90.6" lengthAdjust="spacingAndGlyphs" font-family="'DejaVu Sans', 'Liberation Sans', sans-serif" stroke-width="0.1">Medium Activity</text>
<rect x="472.5" y="71.5" width="20" height="9" fill="#ffa3a3" stroke="#333" stroke-width="1"/>
<text x="500.6" y="79.8" font-size="11" fill="#1a1a2a" stroke="#1a1a2a" textLength="72.1" lengthAdjust="spacingAndGlyphs" font-family="'DejaVu Sans', 'Liberation Sans', sans-serif" stroke-width="0.1">High Activity</text>
<rect x="0.5" y="0.5" width="639" height="479" fill="none" stroke="#666" stroke-width="1"/>
</svg>
</body></html>
